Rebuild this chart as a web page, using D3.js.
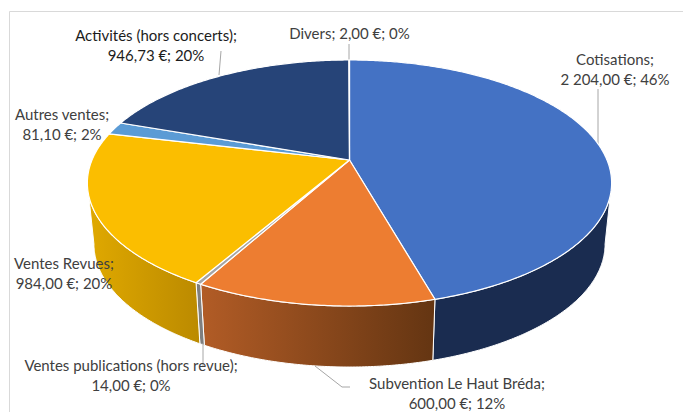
<!DOCTYPE html>
<html>
<head>
<meta charset="utf-8">
<script src="https://cdn.jsdelivr.net/npm/d3@7"></script>
<style>
html, body { margin:0; padding:0; background:white; overflow:hidden; }
</style>
</head>
<body>
<script>
var categories = ["Cotisations", "Subvention Le Haut Bréda", "Ventes publications (hors revue)", "Ventes Revues", "Autres ventes", "Activités (hors concerts)", "Divers"];
var values = [2204, 600, 14, 984, 81.1, 946.73, 2];
var top_colors = ["#4472c4", "#ed7d31", "#a5a5a5", "#fbbe00", "#5b9bd5", "#264478", "#636363"];
// left and right colour of the side wall gradient
var wall_colors = [["#1a2c50", "#1a2c50"], ["#b25c26", "#643512"], ["#7f7f7f", "#7f7f7f"], ["#e0a900", "#bb8a00"], ["#44749f", "#44749f"], ["#1a2c50", "#1a2c50"], ["#4a4a4a", "#4a4a4a"]];

// where the data labels sit: [center x, first baseline, second baseline (or null)]
var label_pos = [[615, 65, 85], [457, 389, 409], [131, 371, 391], [64, 269, 289], [62, 120, 140], [156, 41, 61], [349.5, 39, null]];
var label_color = ["#404040", "#404040", "#404040", "#404040", "#404040", "#1c1c1c", "#404040"];
var leaders = [
    [[598, 89], [598, 145]],
    [[315, 366], [342, 387], [350, 387]],
    [[203, 343], [203, 366]],
    [[221, 51], [219, 75]],
    [[349, 44], [349, 60]]
];

var width = 683, height = 412;

// perspective of the pie: disc (u,v) -> screen
var cx = 349.5, apex_y = 160, K = 257.5, A = 88.8, C = -0.187;
var depth = 61, base_scale = 0.975;

function project(a){
    let u = Math.sin(a), v = -Math.cos(a), w = C*v + 1;
    return [cx + K*u/w, (A*v + apex_y)/w];
}
function project_base(a){
    let p = project(a);
    return [cx + (p[0]-cx)*base_scale, p[1] + depth];
}
function samples(a0, a1){
    let n = Math.max(2, Math.ceil((a1-a0)/0.01));
    return d3.range(n+1).map(function(i){ return a0 + (a1-a0)*i/n; });
}

var fr_money = d3.formatLocale({decimal:",", thousands:"\u00a0", grouping:[3], currency:["", " €"]}).format("$,.2f");
var fr_pct = d3.format(".0%");
var total = d3.sum(values);

var svg = d3.select('body').append('svg')
    .attr('width', width)
    .attr('height', height)
    .style('display', 'block');

// chart frame, it runs off the picture on the right and at the bottom
svg.append('path')
    .attr('d', 'M9.5 ' + (height+2) + ' V11.5 H' + (width+2))
    .attr('fill', 'none')
    .attr('stroke', '#d9d9d9')
    .attr('stroke-width', 1);

var pie = d3.pie().sort(null)(values);
var line = d3.line();

var defs = svg.append('defs');
// the disc is widest at these angles
var front_start = Math.PI - Math.acos(-C);
var front_end = 2*Math.PI - front_start;

// Side walls
var walls = pie.filter(function(d){ return d.endAngle > front_start && d.startAngle < front_end; });
walls.forEach(function(d){
    let i = d.index;
    let angles = samples(Math.max(d.startAngle, front_start), Math.min(d.endAngle, front_end));
    let upper = angles.map(project);
    let lower = angles.map(project_base).reverse();
    let xs = upper.concat(lower).map(function(p){ return p[0]; });
    let grad = defs.append('linearGradient')
        .attr('id', 'wall-' + i)
        .attr('gradientUnits', 'userSpaceOnUse')
        .attr('x1', d3.min(xs)).attr('x2', d3.max(xs))
        .attr('y1', 0).attr('y2', 0);
    grad.append('stop').attr('offset', 0).attr('stop-color', wall_colors[i][0]);
    grad.append('stop').attr('offset', 1).attr('stop-color', wall_colors[i][1]);
    svg.append('path')
        .attr('d', line(upper.concat(lower)) + 'Z')
        .attr('fill', 'url(#wall-' + i + ')')
        .attr('stroke', 'white')
        .attr('stroke-width', 1);
});

// Leader lines
svg.append('g').selectAll('path')
    .data(leaders)
    .enter()
    .append('path')
    .attr('d', function(d){ return line(d); })
    .attr('fill', 'none')
    .attr('stroke', '#a6a6a6')
    .attr('stroke-width', 1);

// Top face
svg.append('g').selectAll('path')
    .data(pie)
    .enter()
    .append('path')
    .attr('d', function(d){
        let pts = samples(d.startAngle, d.endAngle).map(project);
        return line([[cx, apex_y]].concat(pts)) + 'Z';
    })
    .attr('fill', function(d){ return top_colors[d.index]; })
    .attr('stroke', 'white')
    .attr('stroke-width', 1.2)
    .attr('stroke-linejoin', 'round');

// Data labels
var labels = svg.append('g').selectAll('text')
    .data(pie)
    .enter()
    .append('text')
    .attr('text-anchor', 'middle')
    .attr('font-family', 'Lato, "Open Sans", sans-serif')
    .attr('font-size', 15)
    .attr('fill', function(d){ return label_color[d.index]; });

labels.each(function(d){
    let p = label_pos[d.index];
    let t = d3.select(this);
    let second = fr_money(d.value) + '; ' + fr_pct(d.value/total);
    if(p[2] === null){
        t.append('tspan').attr('x', p[0]).attr('y', p[1]).text(categories[d.index] + '; ' + second);
    } else {
        t.append('tspan').attr('x', p[0]).attr('y', p[1]).text(categories[d.index] + ';');
        t.append('tspan').attr('x', p[0]).attr('y', p[2]).text(second);
    }
});
</script>
</body>
</html>
